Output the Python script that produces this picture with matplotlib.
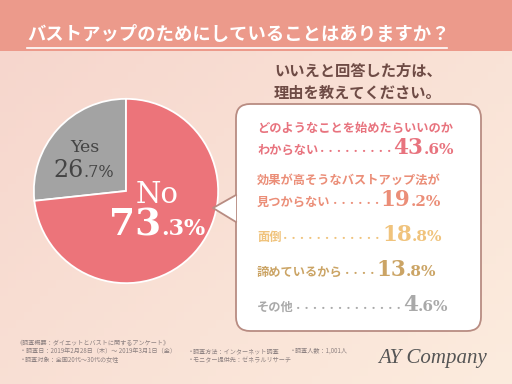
import matplotlib
matplotlib.use("Agg")
import matplotlib.pyplot as plt
import numpy as np
from matplotlib.patches import FancyBboxPatch, Polygon, Rectangle

JP = ['Noto Sans CJK JP', 'DejaVu Sans']
SERIF = ['DejaVu Serif', 'Noto Sans CJK JP']

# ---- data ----
title = "バストアップのためにしていることはありますか？"
pie_labels = ["Yes", "No"]
pie_values = [26.7, 73.3]
pie_colors = ["#A3A3A3", "#EC747A"]

subtitle = ["いいえと回答した方は、", "理由を教えてください。"]
reason_lines = [["どのようなことを始めたらいいのか", "わからない"],
                ["効果が高そうなバストアップ法が", "見つからない"],
                ["面倒"],
                ["諦めているから"],
                ["その他"]]
reason_values = [43.6, 19.2, 18.8, 13.8, 4.6]
reason_dots = [9, 6, 12, 4, 13]
reason_colors = ["#E8737E", "#EB8E78", "#F0C37C", "#CBA465", "#A9A9A9"]

footer_lines = [
    ["《調査概要：ダイエットとバストに関するアンケート》"],
    ["・調査日：2019年2月28日（木）～ 2019年3月1日（金）", "・調査方法：インターネット調査", "・調査人数：1,001人"],
    ["・調査対象：全国20代～30代の女性", "・モニター提供先：ゼネラルリサーチ"],
]
company = "AY Company"

# ---- figure ----
W, H = 512, 384
fig = plt.figure(figsize=(W / 100, H / 100), dpi=100)
ax = fig.add_axes([0, 0, 1, 1])
ax.set_xlim(0, W)
ax.set_ylim(H, 0)
ax.axis('off')

# background gradient
gx = np.linspace(0, 1, 64)
gy = np.linspace(0, 1, 48)
GX, GY = np.meshgrid(gx, gy)
t = np.clip(0.55 * GX + 0.45 * GY, 0, 1)[..., None]
c1 = np.array([0.965, 0.835, 0.800])
c2 = np.array([0.988, 0.925, 0.870])
img = c1 * (1 - t) + c2 * t
ax.imshow(img, extent=[0, W, H, 0], aspect='auto', zorder=0)

# header band
ax.add_patch(Rectangle((0, 0), W, 51, facecolor="#EC9A8B", edgecolor='none', zorder=1))

# ---- pie ----
cx, cy, r = 126, 191, 94
pax = fig.add_axes([(cx - r) / W, (H - cy - r) / H, 2 * r / W, 2 * r / H])
pax.pie(pie_values, colors=pie_colors, startangle=90, counterclock=True, radius=1,
        wedgeprops=dict(edgecolor='white', linewidth=1.3))
pax.set_xlim(-1.02, 1.02)
pax.set_ylim(-1.02, 1.02)
pax.axis('off')

# overlay axes for box and texts
tax = fig.add_axes([0, 0, 1, 1])
tax.set_xlim(0, W)
tax.set_ylim(H, 0)
tax.axis('off')
tax.patch.set_alpha(0)

tax.text(27, 40, title, fontsize=13.2, color='white', fontweight='bold', family=JP,
         va='baseline', ha='left', zorder=2)
tax.plot([27, 447], [47.5, 47.5], color='white', lw=1.2, zorder=2)

fig.canvas.draw()
renderer = fig.canvas.get_renderer()


def run(x, y, parts):
    """Draw consecutive text pieces on a common baseline starting at x."""
    texts = []
    for s, fs, fam, wt, col in parts:
        tt = tax.text(x, y, s, fontsize=fs, family=fam, fontweight=wt, color=col,
                      va='baseline', ha='left', zorder=6)
        bb = tt.get_window_extent(renderer)
        x = bb.x1
        texts.append(tt)
    return texts, x


def num_parts(v, big, small, col, fam=SERIF, wt='bold'):
    s = f"{v:.1f}"
    ip, dp = s.split('.')
    return [(ip, big, fam, wt, col), ("." + dp + "%", small, fam, wt, col)]


def centered_run(xc, y, parts):
    texts, xe = run(0, y, parts)
    shift = xc - xe / 2
    for tt in texts:
        tt.set_x(tt.get_position()[0] + shift)


# pie labels
centered_run(85, 152, [(pie_labels[0], 12.5, SERIF, 'normal', '#444444')])
centered_run(84, 177, num_parts(pie_values[0], 17, 11.5, '#444444', wt='normal'))
centered_run(157, 203, [(pie_labels[1], 21, SERIF, 'normal', 'white')])
centered_run(157, 235, num_parts(pie_values[1], 27, 16, 'white'))

# ---- callout box ----
bx0, by0, bx1, by1 = 236, 104, 481, 331
box = FancyBboxPatch((bx0, by0), bx1 - bx0, by1 - by0,
                     boxstyle="round,pad=0,rounding_size=14",
                     facecolor='white', edgecolor='#B88C82', lw=1.3, zorder=4)
tax.add_patch(box)
tip = (213, 208)
pa, pb = (bx0, 195), (bx0, 222)
tax.add_patch(Polygon([pa, tip, pb], closed=True, facecolor='white', edgecolor='none', zorder=5))
tax.plot([pa[0], tip[0], pb[0]], [pa[1], tip[1], pb[1]], color='#B88C82', lw=1.3, zorder=5)

# subtitle
tax.text(358, 76, subtitle[0], fontsize=11, fontweight='bold', family=JP, color='#6E4B45',
         ha='center', va='baseline', zorder=6)
tax.text(358, 97.5, subtitle[1], fontsize=11, fontweight='bold', family=JP, color='#6E4B45',
         ha='center', va='baseline', zorder=6)

# reasons
last_baselines = [154, 206, 241, 276, 311]
lx = 257
for lines, v, nd, col, yb in zip(reason_lines, reason_values, reason_dots, reason_colors, last_baselines):
    if len(lines) == 2:
        tax.text(lx, yb - 22.5, lines[0], fontsize=8.8, family=JP, fontweight='bold', color=col,
                 ha='left', va='baseline', zorder=6)
    parts = [(lines[-1], 8.8, JP, 'bold', col),
             ("・" * nd, 6.0, JP, 'heavy', col)]
    parts += num_parts(v, 15.5, 11, col)
    run(lx, yb, parts)

# footer
fcol = '#8C8080'
fys = [344, 353, 362]
fxs = [[17], [20, 188, 290], [20, 188]]
for lines, xs, fy in zip(footer_lines, fxs, fys):
    for s, x in zip(lines, xs):
        tax.text(x, fy, s, fontsize=4.4, family=JP, color=fcol, ha='left', va='baseline', zorder=6)

tax.text(433, 363, company, fontsize=15, family=['Liberation Serif'], style='italic',
         color='#555555', ha='center', va='baseline', zorder=6)

fig.savefig("out.png", dpi=100)
